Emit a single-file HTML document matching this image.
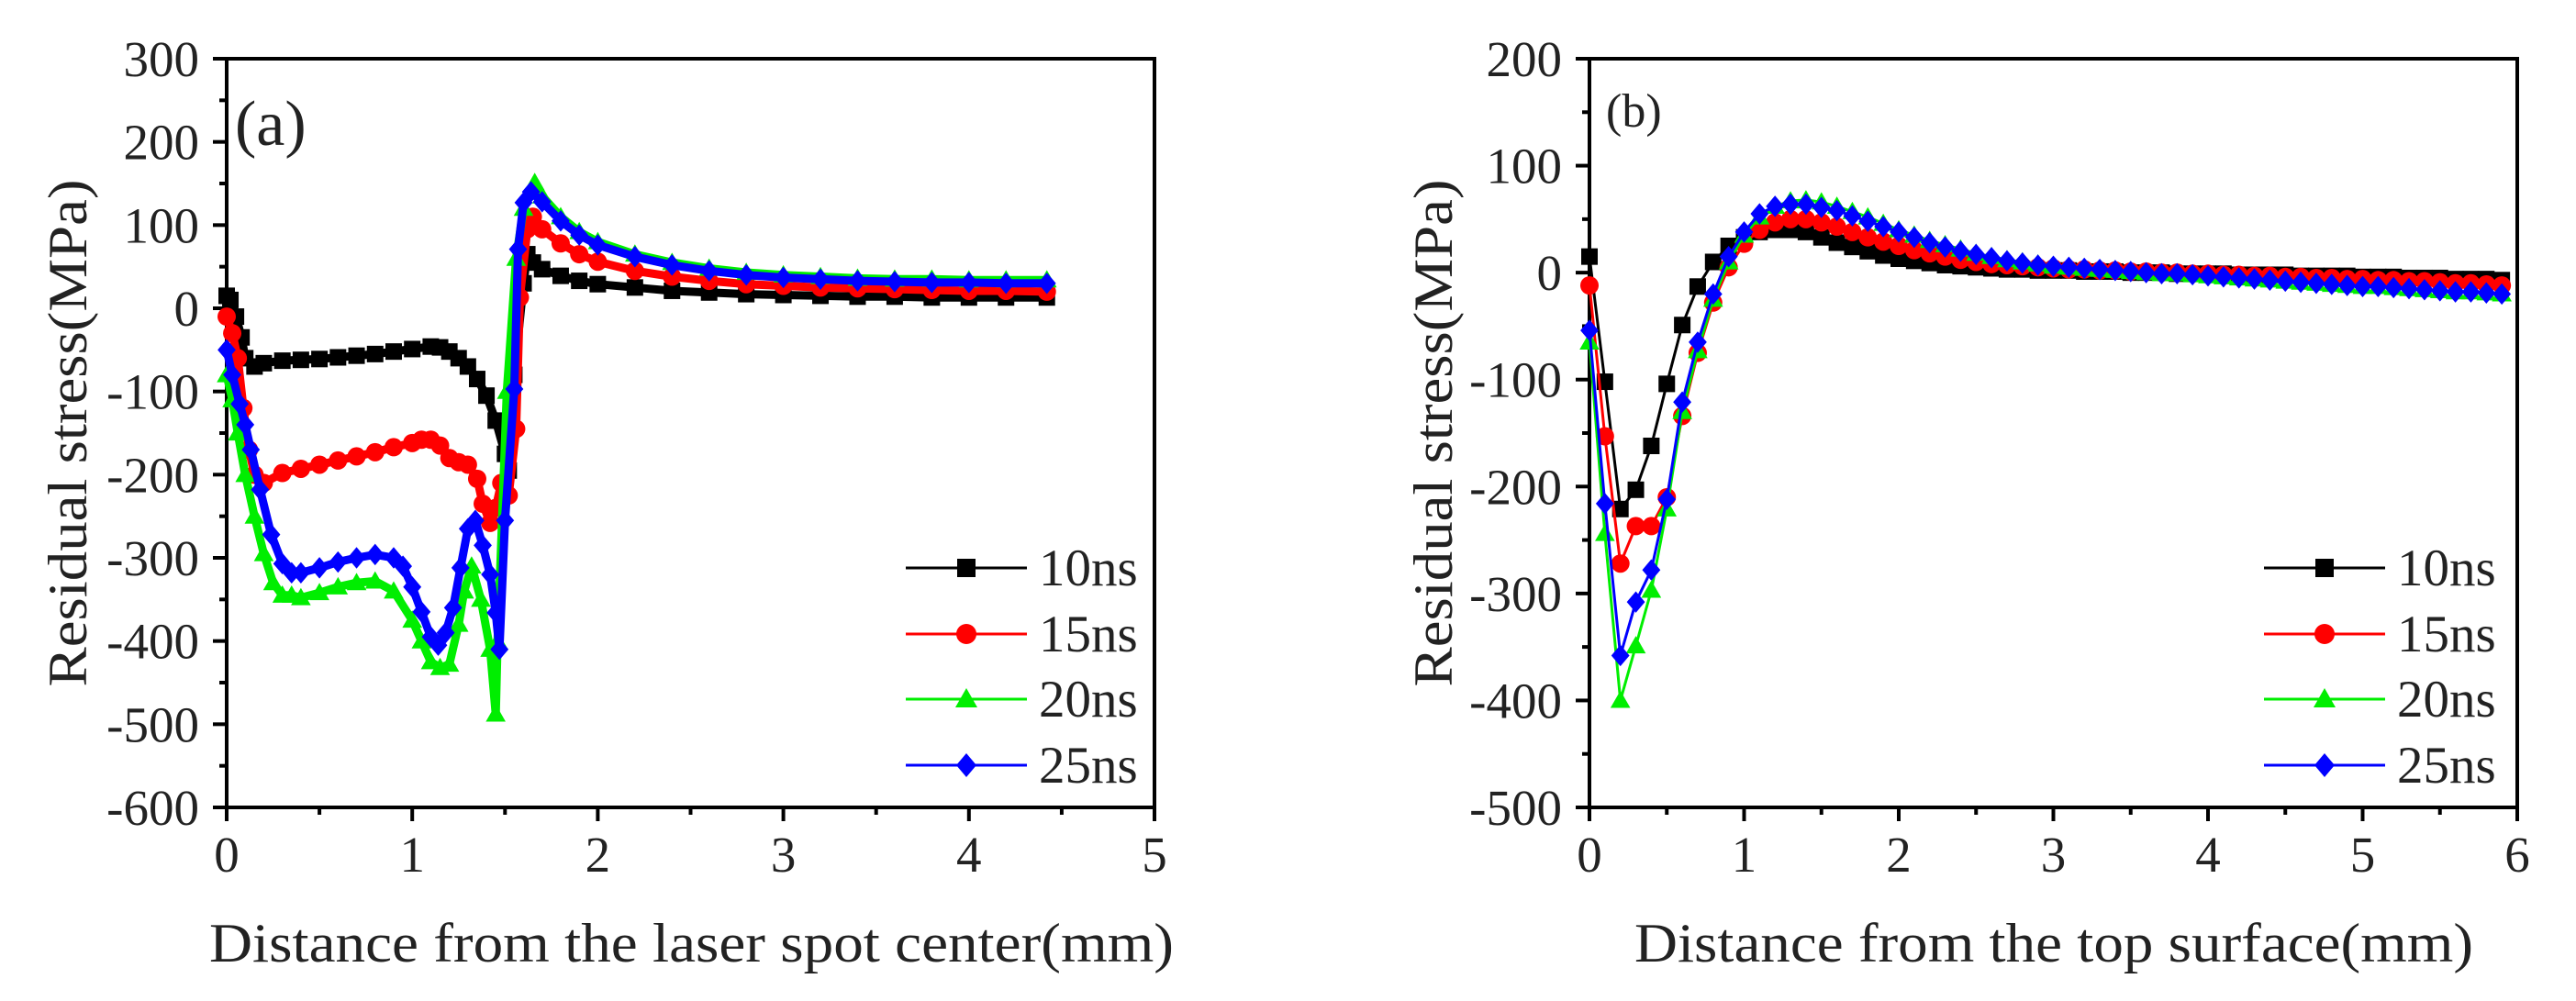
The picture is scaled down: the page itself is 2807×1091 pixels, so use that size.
<!DOCTYPE html>
<html><head><meta charset="utf-8"><style>
html,body{margin:0;padding:0;background:#fff;}
svg{display:block;font-family:"Liberation Serif",serif;}
</style></head><body>
<svg id="fig" width="2807" height="1091" viewBox="0 0 2807 1091" xmlns="http://www.w3.org/2000/svg"></svg>
<script>
// ---------- Panel (a) data ----------
const aLabels = ["10ns","15ns","20ns","25ns"];
const aX10 = [0,0.02,0.05,0.08,0.1,0.15,0.2,0.3,0.4,0.5,0.6,0.7,0.8,0.9,1.0,1.1,1.15,1.2,1.25,1.3,1.35,1.4,1.45,1.5,1.52,1.55,1.6,1.62,1.65,1.7,1.8,1.9,2.0,2.2,2.4,2.6,2.8,3.0,3.2,3.4,3.6,3.8,4.0,4.2,4.42];
const aY10 = [15,10,-10,-35,-60,-70,-66,-63,-62,-61,-59,-57,-55,-52,-49,-46,-47,-52,-60,-70,-85,-105,-135,-175,-195,-80,30,65,55,47,39,33,29,25,21,19,17,16,15,14,14,13,13,13,13];
const aX15 = [0,0.03,0.06,0.09,0.12,0.15,0.2,0.3,0.4,0.5,0.6,0.7,0.8,0.9,1.0,1.05,1.1,1.15,1.2,1.25,1.3,1.35,1.38,1.42,1.45,1.48,1.52,1.56,1.58,1.62,1.65,1.7,1.8,1.9,2.0,2.2,2.4,2.6,2.8,3.0,3.2,3.4,3.6,3.8,4.0,4.2,4.42];
const aY15 = [-10,-30,-60,-120,-170,-200,-210,-198,-193,-188,-183,-178,-173,-167,-162,-158,-158,-165,-180,-185,-188,-205,-235,-258,-240,-210,-225,-145,13,95,110,95,78,65,56,45,38,33,29,27,25,24,23,22,21,21,20];
const aX20 = [0,0.03,0.06,0.1,0.15,0.2,0.25,0.3,0.35,0.4,0.5,0.6,0.7,0.8,0.9,1.0,1.05,1.1,1.15,1.2,1.25,1.28,1.32,1.37,1.42,1.45,1.46,1.51,1.56,1.6,1.66,1.7,1.8,1.9,2.0,2.2,2.4,2.6,2.8,3.0,3.2,3.4,3.6,3.8,4.0,4.2,4.42];
const aY20 = [-80,-110,-150,-200,-250,-295,-330,-345,-345,-348,-342,-335,-330,-328,-340,-375,-400,-425,-432,-428,-380,-340,-310,-350,-410,-488,-400,-100,60,120,151,135,110,92,80,65,55,48,43,40,38,36,35,35,34,34,34];
const aX25 = [0,0.03,0.07,0.1,0.13,0.18,0.24,0.3,0.35,0.4,0.5,0.6,0.7,0.8,0.9,0.95,1.0,1.05,1.1,1.14,1.18,1.22,1.26,1.3,1.34,1.38,1.42,1.45,1.47,1.5,1.55,1.57,1.6,1.64,1.7,1.8,1.9,2.0,2.2,2.4,2.6,2.8,3.0,3.2,3.4,3.6,3.8,4.0,4.2,4.42];
const aY25 = [-50,-80,-115,-140,-170,-218,-272,-307,-318,-318,-312,-305,-300,-296,-300,-310,-335,-365,-395,-405,-390,-360,-312,-265,-255,-285,-320,-366,-410,-255,-97,71,127,140,128,105,88,76,62,52,45,40,37,35,33,32,31,31,30,30];
const aXTicks = ["0","1","2","3","4","5"];
const aYTicks = ["300","200","100","0","-100","-200","-300","-400","-500","-600"];

// ---------- Panel (b) data ----------
const bX = [0,0.1,0.2,0.3,0.4,0.5,0.6,0.7,0.8,0.9,1.0,1.1,1.2,1.3,1.4,1.5,1.6,1.7,1.8,1.9,2.0,2.1,2.2,2.3,2.4,2.5,2.6,2.7,2.8,2.9,3.0,3.1,3.2,3.3,3.4,3.5,3.6,3.7,3.8,3.9,4.0,4.1,4.2,4.3,4.4,4.5,4.6,4.7,4.8,4.9,5.0,5.1,5.2,5.3,5.4,5.5,5.6,5.7,5.8,5.9];
const bY10 = [15,-102,-221,-203,-162,-104,-49,-13,10,25,33,38,40,40,38,33,28,24,20,16,13,11,9,7,6,5,4,3,3,2,2,2,1,1,1,0,0,0,-1,-1,-1,-1,-2,-2,-2,-2,-3,-3,-3,-3,-4,-4,-4,-5,-5,-5,-6,-6,-6,-7];
const bY15 = [-12,-153,-272,-237,-237,-210,-134,-75,-28,5,27,40,47,50,50,47,43,38,33,29,25,21,18,15,12,10,8,7,6,5,4,3,3,2,2,1,1,0,0,-1,-1,-2,-2,-3,-3,-4,-4,-5,-5,-6,-6,-7,-7,-8,-8,-9,-10,-10,-11,-12];
const bY20 = [-65,-244,-400,-349,-297,-221,-130,-73,-25,10,35,52,62,67,68,66,62,57,52,46,40,35,30,26,22,18,15,12,10,8,6,5,4,3,2,1,0,-1,-1,-2,-3,-4,-5,-6,-7,-8,-9,-10,-11,-12,-13,-13,-14,-15,-16,-17,-18,-18,-19,-20];
const bY25 = [-54,-216,-358,-308,-278,-212,-121,-65,-20,15,38,55,62,64,64,61,58,53,48,43,38,33,28,24,20,17,14,11,9,7,6,5,4,3,2,1,0,-1,-1,-2,-3,-4,-5,-6,-7,-8,-9,-10,-11,-12,-13,-13,-14,-15,-16,-17,-18,-18,-19,-20];
const bXTicks = ["0","1","2","3","4","5","6"];
const bYTicks = ["200","100","0","-100","-200","-300","-400","-500"];

const colors = ["#000000","#ff0000","#00ee00","#0000ff"];
const shapes = ["square","circle","triangle","diamond"];
const NS = "http://www.w3.org/2000/svg";
const svg = document.getElementById("fig");

function mk(tag, attrs, parent){
  const e = document.createElementNS(NS, tag);
  for (const k in attrs) e.setAttribute(k, attrs[k]);
  (parent||svg).appendChild(e);
  return e;
}
function marker(shape, cx, cy, s, color, parent){
  let e;
  if (shape==="square") e = mk("rect",{x:cx-s/2,y:cy-s/2,width:s,height:s,fill:color},parent);
  else if (shape==="circle") e = mk("circle",{cx:cx,cy:cy,r:s/2+1,fill:color},parent);
  else if (shape==="triangle") e = mk("polygon",{points:`${cx},${cy-s*0.6} ${cx-s*0.6},${cy+s*0.45} ${cx+s*0.6},${cy+s*0.45}`,fill:color},parent);
  else e = mk("polygon",{points:`${cx},${cy-s*0.65} ${cx+s*0.55},${cy} ${cx},${cy+s*0.65} ${cx-s*0.55},${cy}`,fill:color},parent);
  return e;
}

function panel(cfg){
  const g = mk("g",{});
  
  
  const sx = v => cfg.L + (v - cfg.xmin)/(cfg.xmax-cfg.xmin)*(cfg.R-cfg.L);
  const sy = v => cfg.B - (v - cfg.ymin)/(cfg.ymax-cfg.ymin)*(cfg.B-cfg.T);
  const fr = mk("rect",{x:cfg.L,y:cfg.T,width:cfg.R-cfg.L,height:cfg.B-cfg.T,fill:"none",stroke:"#000","stroke-width":4},g);
  
  
  const yt = cfg.yTicks;
  for (let i=0;i<yt.length;i++){
    const v = parseFloat(yt[i]); const y = sy(v);
    const t = mk("line",{x1:cfg.L-15,x2:cfg.L,y1:y,y2:y,stroke:"#000","stroke-width":4},g);
    
    
    const lb = mk("text",{x:cfg.L-30,y:y+19,"text-anchor":"end","font-size":55,fill:"#222"},g);
    lb.textContent = yt[i];
    
    
    if (i<yt.length-1){
      const m = sy(v - cfg.ystep/2);
      const mt = mk("line",{x1:cfg.L-8,x2:cfg.L,y1:m,y2:m,stroke:"#000","stroke-width":4},g);
      
      
    }
  }
  const xt = cfg.xTicks;
  for (let i=0;i<xt.length;i++){
    const v = parseFloat(xt[i]); const x = sx(v);
    const t = mk("line",{x1:x,x2:x,y1:cfg.B,y2:cfg.B+15,stroke:"#000","stroke-width":4},g);
    
    
    const lb = mk("text",{x:x,y:950,"text-anchor":"middle","font-size":55,fill:"#222"},g);
    lb.textContent = xt[i];
    
    
    if (i<xt.length-1){
      const m = sx(v+0.5);
      const mt = mk("line",{x1:m,x2:m,y1:cfg.B,y2:cfg.B+8,stroke:"#000","stroke-width":4},g);
      
      
    }
  }
  const xtl = mk("text",{x:cfg.xtX,y:1048,"font-size":60,fill:"#222",textLength:cfg.xtW,lengthAdjust:"spacingAndGlyphs"},g);
  xtl.textContent = cfg.xTitle;
  
  
  const ytl = mk("text",{x:0,y:0,"font-size":60,fill:"#222","text-anchor":"middle",textLength:553,lengthAdjust:"spacingAndGlyphs",transform:`translate(${cfg.ytX},472) rotate(-90)`},g);
  ytl.textContent = "Residual stress(MPa)";
  
  
  const pl = mk("text",{x:cfg.plX,y:cfg.plY,"font-size":cfg.plS,fill:"#222"},g);
  pl.textContent = cfg.panelLabel;
  
  
  for (let s=0;s<4;s++){
    const xs = cfg.xs[s], ys = cfg.ys[s];
    const sg = mk("g",{},g);
    
    
    let d = "";
    for (let i=0;i<ys.length;i++) d += (i?"L":"M") + sx(xs[i]).toFixed(1) + "," + sy(ys[i]).toFixed(1);
    const p = mk("path",{d:d,fill:"none",stroke:colors[s],"stroke-width":cfg.lw,"stroke-linejoin":"round","stroke-linecap":"round"},sg);
    
    
    for (let i=0;i<ys.length;i++){
      const m = marker(shapes[s], sx(xs[i]), sy(ys[i]), cfg.ms, colors[s], sg);
      
      
    }
  }
  const lg = mk("g",{},g);
  
  
  const rows = [619,691,762,834];
  for (let s=0;s<4;s++){
    const le = mk("g",{},lg);
    
    
    const y = rows[s];
    mk("line",{x1:cfg.lgX,x2:cfg.lgX+132,y1:y,y2:y,stroke:colors[s],"stroke-width":3},le);
    marker(shapes[s], cfg.lgX+66, y, 20, colors[s], le);
    const t = mk("text",{x:cfg.lgX+145,y:y+19,"font-size":57,fill:"#222"},le);
    t.textContent = aLabels[s];
  }
}

panel({name:"panel-a",L:247,R:1258,T:64,B:880,xmin:0,xmax:5,ymin:-600,ymax:300,ystep:100,
  xTicks:aXTicks,yTicks:aYTicks,xs:[aX10,aX15,aX20,aX25],ys:[aY10,aY15,aY20,aY25],ms:18,lw:9,
  xTitle:"Distance from the laser spot center(mm)",xtX:228,xtW:1051,ytX:94,
  panelLabel:"(a)",plX:256,plY:158,plS:70,lgX:987});
panel({name:"panel-b",L:1732,R:2743,T:64,B:880,xmin:0,xmax:6,ymin:-500,ymax:200,ystep:100,
  xTicks:bXTicks,yTicks:bYTicks,xs:[bX,bX,bX,bX],ys:[bY10,bY15,bY20,bY25],ms:18,lw:3,
  xTitle:"Distance from the top surface(mm)",xtX:1781,xtW:914,ytX:1582,
  panelLabel:"(b)",plX:1750,plY:138,plS:52,lgX:2467});
</script>
</body></html>
